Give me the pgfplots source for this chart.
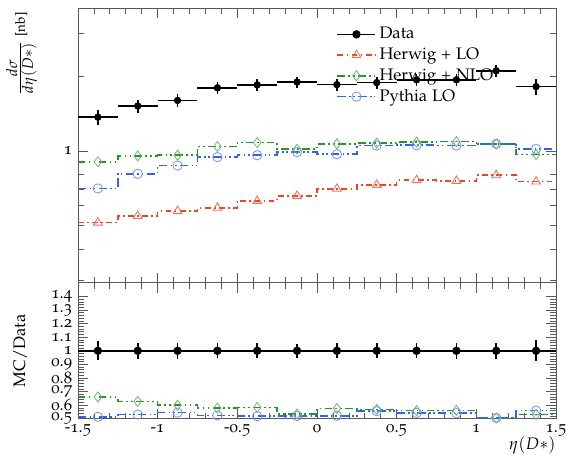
\documentclass[border=0pt]{standalone}
\usepackage[T1]{fontenc}
\usepackage[osf]{mathpazo}
\usepackage{pgfplots}
\pgfplotsset{compat=1.18}
\definecolor{cred}{RGB}{235,70,35}
\definecolor{cgreen}{RGB}{35,150,35}
\definecolor{cblue}{RGB}{50,100,230}
\definecolor{mred}{RGB}{240,110,90}
\definecolor{mgreen}{RGB}{110,185,110}
\definecolor{mblue}{RGB}{120,150,240}
\pgfplotstableread{
x y ey r er
-1.375 1.369 0.096 1 0.070
-1.125 1.52 0.091 1 0.060
-0.875 1.60 0.096 1 0.060
-0.625 1.80 0.099 1 0.055
-0.375 1.85 0.102 1 0.055
-0.125 1.90 0.099 1 0.052
0.125 1.855 0.102 1 0.055
0.375 1.89 0.104 1 0.055
0.625 1.94 0.107 1 0.055
0.875 1.94 0.116 1 0.060
1.125 2.11 0.127 1 0.060
1.375 1.82 0.142 1 0.078
}\datatab
\pgfplotstableread{
xl xc lo nlo py rlo rnlo rpy
-1.5 -1.375 0.512 0.903 0.704 0.374 0.660 0.514
-1.25 -1.125 0.545 0.954 0.807 0.359 0.628 0.531
-1.0 -0.875 0.570 0.960 0.872 0.356 0.600 0.545
-0.75 -0.625 0.588 1.041 0.943 0.327 0.578 0.524
-0.5 -0.375 0.627 1.080 0.960 0.339 0.584 0.519
-0.25 -0.125 0.657 1.016 0.988 0.346 0.535 0.520
0.0 0.125 0.702 1.067 0.969 0.378 0.575 0.522
0.25 0.375 0.728 1.075 1.050 0.385 0.569 0.556
0.5 0.625 0.761 1.084 1.054 0.392 0.559 0.543
0.75 0.875 0.756 1.090 1.050 0.390 0.562 0.541
1.0 1.125 0.797 1.067 1.067 0.378 0.506 0.506
1.25 1.375 0.751 0.966 1.019 0.413 0.531 0.560
1.5 nan 0.751 0.966 1.019 0.413 0.531 0.560
}\mctab
\tikzset{
  lostyle/.style={cred, line width=0.9pt, dash pattern=on 3.5pt off 2pt on 1pt off 2pt},
  nlostyle/.style={cgreen, line width=0.9pt, dash pattern=on 4.5pt off 2pt on 1pt off 2pt on 1pt off 2pt},
  pystyle/.style={cblue, line width=0.9pt, dash pattern=on 5pt off 2pt on 1pt off 1.5pt on 1pt off 2pt},
}
\pgfplotsset{
  panel/.style={
    scale only axis, width=287pt,
    xmin=-1.5, xmax=1.5,
    xtick={-1.5,-1,-0.5,0,0.5,1,1.5},
    minor x tick num=4,
    tick align=inside, xtick pos=both, ytick pos=both,
    major tick length=6pt, minor tick length=3.5pt,
    axis line style={gray!70!black},
    every tick/.style={gray!70!black},
    /pgf/number format/assume math mode=true,
    tick label style={font=\normalsize},
    yticklabel style={inner sep=0.5pt, xshift=-2.8pt},
  },
}
\begin{document}
\begin{tikzpicture}
\begin{axis}[panel, name=top, height=165pt,
  ymode=log, ymin=0.292, ymax=3.79,
  ytick={1}, yticklabels={1},
  minor ytick={0.3,0.4,0.5,0.6,0.7,0.8,2,3},
  xticklabels={},
  ylabel={{\large$\frac{d\sigma}{d\eta(D*)}$} {\footnotesize[nb]}},
  ylabel style={at={(axis description cs:-0.085,0.985)}, anchor=south east, inner sep=0pt},
  legend style={at={(axis description cs:0.53,0.955)}, anchor=north west, draw=none, fill=none, font=\normalsize, row sep=0pt},
  legend cell align=left,
  legend image code/.code={\draw[mark repeat=2,mark phase=2,#1] plot coordinates {(0cm,0cm)(0.4cm,0cm)(0.8cm,0cm)};},
]
\addlegendimage{black, line width=1pt, mark=*, mark size=2pt}
\addlegendentry{Data}
\addlegendimage{lostyle, mark=triangle, mark size=3pt, mark options={solid, mred, line width=0.5pt}}
\addlegendentry{Herwig + LO}
\addlegendimage{nlostyle, mark=diamond, mark size=3pt, mark options={solid, mgreen, line width=0.5pt}}
\addlegendentry{Herwig + NLO}
\addlegendimage{pystyle, mark=o, mark size=2.8pt, mark options={solid, mblue, line width=0.5pt}}
\addlegendentry{Pythia LO}
\addplot[lostyle, const plot, forget plot] table[x=xl, y=lo] {\mctab};
\addplot[only marks, mark=triangle, mark size=3pt, mred, line width=0.5pt, forget plot] table[x=xc, y=lo] {\mctab};
\addplot[nlostyle, const plot, forget plot] table[x=xl, y=nlo] {\mctab};
\addplot[only marks, mark=diamond, mark size=3pt, mgreen, line width=0.5pt, forget plot] table[x=xc, y=nlo] {\mctab};
\addplot[pystyle, const plot, forget plot] table[x=xl, y=py] {\mctab};
\addplot[only marks, mark=o, mark size=2.8pt, mblue, line width=0.5pt, forget plot] table[x=xc, y=py] {\mctab};
\addplot[black, only marks, mark=*, mark size=2pt, forget plot,
  error bars/.cd, x dir=both, x fixed=0.125, y dir=both, y explicit,
  error bar style={line width=1pt}, error mark=none]
  table[x=x, y=y, y error=ey] {\datatab};
\end{axis}
\begin{axis}[panel, name=bot, at={(top.south west)}, anchor=north west, height=81.6pt,
  ymin=0.5, ymax=1.5,
  ytick={0.5,0.6,0.7,0.8,0.9,1,1.1,1.2,1.3,1.4},
  yticklabels={0.5,0.6,0.7,0.8,0.9,1,1.1,1.2,1.3,1.4},
  minor y tick num=4,
  xticklabels={-1.5,-1,-0.5,0,0.5,1,1.5},
  ylabel={MC/Data},
  ylabel style={at={(axis description cs:-0.094,0.5)}, anchor=south},
  xlabel={$\eta(D*)$},
  xlabel style={at={(axis description cs:1,-0.13)}, anchor=north east, inner sep=0pt},
]
\addplot[lostyle, const plot] table[x=xl, y=rlo] {\mctab};
\addplot[nlostyle, const plot] table[x=xl, y=rnlo] {\mctab};
\addplot[only marks, mark=diamond, mark size=3pt, mgreen, line width=0.5pt] table[x=xc, y=rnlo] {\mctab};
\addplot[pystyle, const plot] table[x=xl, y=rpy] {\mctab};
\addplot[only marks, mark=o, mark size=2.8pt, mblue, line width=0.5pt] table[x=xc, y=rpy] {\mctab};
\addplot[black, line width=1pt, mark=*, mark size=2pt,
  error bars/.cd, x dir=both, x fixed=0.125, y dir=both, y explicit,
  error bar style={line width=1pt}, error mark=none]
  table[x=x, y=r, y error=er] {\datatab};
\end{axis}
\pgfresetboundingbox
\path ([xshift=-46.8pt,yshift=4.8pt]top.north west) rectangle ([xshift=6pt,yshift=-25.8pt]bot.south east);
\end{tikzpicture}
\end{document}
